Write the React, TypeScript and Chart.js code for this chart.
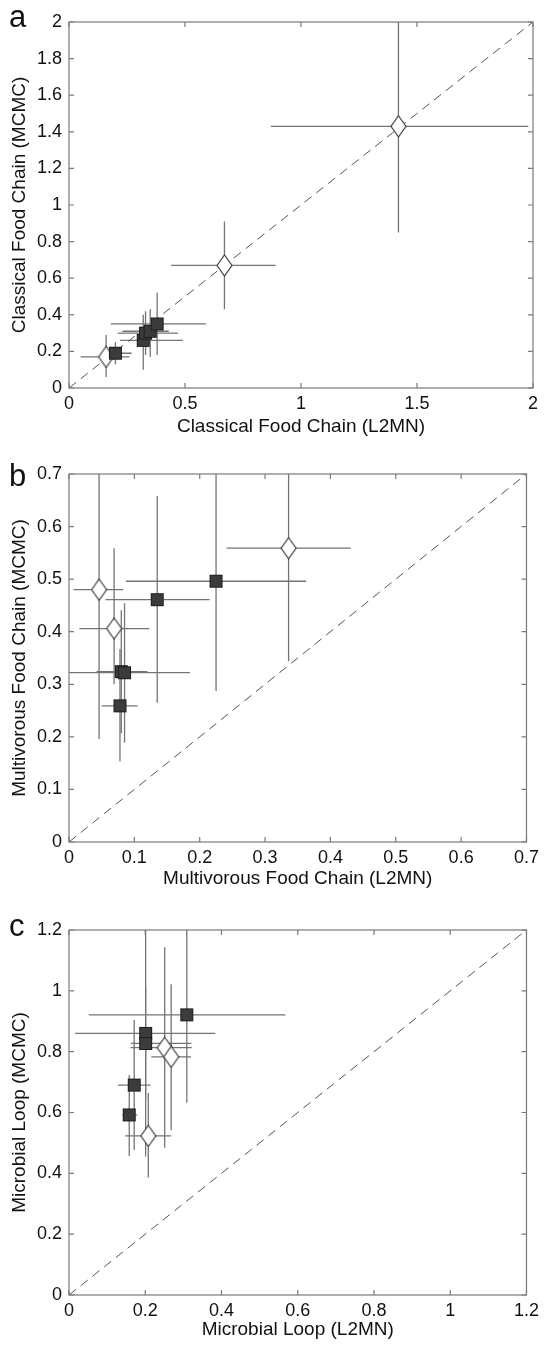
import React, { useEffect, useRef } from "react";
import { Chart, registerables } from "chart.js";
Chart.register(...registerables);

const FONT = "'Liberation Sans', Arial, Helvetica, sans-serif";

// ---------- Panel a: Classical Food Chain ----------
const aXTicks = [0, 0.5, 1, 1.5, 2];
const aXLabels = ["0", "0.5", "1", "1.5", "2"];
const aYTicks = [0, 0.2, 0.4, 0.6, 0.8, 1, 1.2, 1.4, 1.6, 1.8, 2];
const aYLabels = ["0", "0.2", "0.4", "0.6", "0.8", "1", "1.2", "1.4", "1.6", "1.8", "2"];
const aDiaX = [1.42, 0.67, 0.16];
const aDiaY = [1.43, 0.67, 0.17];
const aDiaXLo = [0.87, 0.44, 0.05];
const aDiaXHi = [1.98, 0.89, 0.26];
const aDiaYLo = [0.85, 0.43, 0.06];
const aDiaYHi = [2.1, 0.91, 0.29];
const aSqX = [0.2, 0.32, 0.33, 0.35, 0.38];
const aSqY = [0.19, 0.26, 0.3, 0.31, 0.35];
const aSqXLo = [0.15, 0.22, 0.21, 0.23, 0.18];
const aSqXHi = [0.27, 0.49, 0.47, 0.43, 0.59];
const aSqYLo = [0.13, 0.1, 0.18, 0.17, 0.18];
const aSqYHi = [0.25, 0.4, 0.42, 0.43, 0.52];

// ---------- Panel b: Multivorous Food Chain ----------
const bXTicks = [0, 0.1, 0.2, 0.3, 0.4, 0.5, 0.6, 0.7];
const bXLabels = ["0", "0.1", "0.2", "0.3", "0.4", "0.5", "0.6", "0.7"];
const bYTicks = [0, 0.1, 0.2, 0.3, 0.4, 0.5, 0.6, 0.7];
const bYLabels = ["0", "0.1", "0.2", "0.3", "0.4", "0.5", "0.6", "0.7"];
const bDiaX = [0.046, 0.069, 0.336];
const bDiaY = [0.48, 0.406, 0.559];
const bDiaXLo = [0.007, 0.016, 0.241];
const bDiaXHi = [0.083, 0.123, 0.431];
const bDiaYLo = [0.196, 0.3, 0.344];
const bDiaYHi = [0.75, 0.559, 0.75];
const bSqX = [0.225, 0.135, 0.08, 0.085, 0.078];
const bSqY = [0.496, 0.461, 0.324, 0.322, 0.259];
const bSqXLo = [0.087, 0.056, 0.042, 0.0, 0.05];
const bSqXHi = [0.363, 0.215, 0.12, 0.185, 0.105];
const bSqYLo = [0.287, 0.265, 0.207, 0.189, 0.153];
const bSqYHi = [0.75, 0.658, 0.441, 0.454, 0.367];

// ---------- Panel c: Microbial Loop ----------
const cXTicks = [0, 0.2, 0.4, 0.6, 0.8, 1, 1.2];
const cXLabels = ["0", "0.2", "0.4", "0.6", "0.8", "1", "1.2"];
const cYTicks = [0, 0.2, 0.4, 0.6, 0.8, 1, 1.2];
const cYLabels = ["0", "0.2", "0.4", "0.6", "0.8", "1", "1.2"];
const cDiaX = [0.251, 0.268, 0.208];
const cDiaY = [0.813, 0.783, 0.523];
const cDiaXLo = [0.161, 0.216, 0.147];
const cDiaXHi = [0.322, 0.32, 0.268];
const cDiaYLo = [0.484, 0.542, 0.386];
const cDiaYHi = [1.143, 1.022, 0.664];
const cSqX = [0.309, 0.201, 0.201, 0.171, 0.158];
const cSqY = [0.921, 0.86, 0.827, 0.69, 0.592];
const cSqXLo = [0.052, 0.016, 0.162, 0.128, 0.14];
const cSqXHi = [0.568, 0.384, 0.321, 0.214, 0.179];
const cSqYLo = [0.632, 0.455, 0.641, 0.477, 0.457];
const cSqYHi = [1.25, 1.25, 1.014, 0.904, 0.723];

type Series = { x: number[]; y: number[]; xlo: number[]; xhi: number[]; ylo: number[]; yhi: number[] };
type Panel = {
  letter: string;
  top: number;
  height: number;
  plotTop: number;
  plotBottom: number;
  letterBaseline: number;
  max: number;
  xTicks: number[];
  xLabels: string[];
  yTicks: number[];
  yLabels: string[];
  xTitle: string;
  yTitle: string;
  xTitlePad: number;
  dia: Series;
  sq: Series;
};

const panels: Panel[] = [
  {
    letter: "a", top: 0, height: 455, plotTop: 22, plotBottom: 388, letterBaseline: 27, max: 2,
    xTicks: aXTicks, xLabels: aXLabels, yTicks: aYTicks, yLabels: aYLabels,
    xTitle: "Classical Food Chain (L2MN)", yTitle: "Classical Food Chain (MCMC)", xTitlePad: 17,
    dia: { x: aDiaX, y: aDiaY, xlo: aDiaXLo, xhi: aDiaXHi, ylo: aDiaYLo, yhi: aDiaYHi },
    sq: { x: aSqX, y: aSqY, xlo: aSqXLo, xhi: aSqXHi, ylo: aSqYLo, yhi: aSqYHi },
  },
  {
    letter: "b", top: 445, height: 450, plotTop: 474, plotBottom: 842, letterBaseline: 486, max: 0.7,
    xTicks: bXTicks, xLabels: bXLabels, yTicks: bYTicks, yLabels: bYLabels,
    xTitle: "Multivorous Food Chain (L2MN)", yTitle: "Multivorous Food Chain (MCMC)", xTitlePad: 5,
    dia: { x: bDiaX, y: bDiaY, xlo: bDiaXLo, xhi: bDiaXHi, ylo: bDiaYLo, yhi: bDiaYHi },
    sq: { x: bSqX, y: bSqY, xlo: bSqXLo, xhi: bSqXHi, ylo: bSqYLo, yhi: bSqYHi },
  },
  {
    letter: "c", top: 890, height: 455, plotTop: 930, plotBottom: 1295, letterBaseline: 936, max: 1.2,
    xTicks: cXTicks, xLabels: cXLabels, yTicks: cYTicks, yLabels: cYLabels,
    xTitle: "Microbial Loop (L2MN)", yTitle: "Microbial Loop (MCMC)", xTitlePad: 4,
    dia: { x: cDiaX, y: cDiaY, xlo: cDiaXLo, xhi: cDiaXHi, ylo: cDiaYLo, yhi: cDiaYHi },
    sq: { x: cSqX, y: cSqY, xlo: cSqXLo, xhi: cSqXHi, ylo: cSqYLo, yhi: cSqYHi },
  },
];

const PLOT_LEFT = 69;
const PLOT_RIGHT_PAD = 11;

function makeDiamond(): HTMLCanvasElement {
  const c = document.createElement("canvas");
  const w = 17, h = 23;
  c.width = w; c.height = h;
  const ctx = c.getContext("2d")!;
  ctx.beginPath();
  ctx.moveTo(w / 2, 1);
  ctx.lineTo(w - 1, h / 2);
  ctx.lineTo(w / 2, h - 1);
  ctx.lineTo(1, h / 2);
  ctx.closePath();
  ctx.fillStyle = "#ffffff";
  ctx.fill();
  ctx.strokeStyle = "#3c3c3c";
  ctx.lineWidth = 1.2;
  ctx.stroke();
  return c;
}

function makeSquare(): HTMLCanvasElement {
  const c = document.createElement("canvas");
  const s = 15;
  c.width = s; c.height = s;
  const ctx = c.getContext("2d")!;
  ctx.fillStyle = "#3b3b3b";
  ctx.fillRect(1, 1, s - 2, s - 2);
  ctx.strokeStyle = "#1e1e1e";
  ctx.lineWidth = 1;
  ctx.strokeRect(1.5, 1.5, s - 3, s - 3);
  return c;
}

function PanelChart({ p }: { p: Panel }) {
  const ref = useRef<HTMLCanvasElement | null>(null);
  useEffect(() => {
    if (!ref.current) return;
    const diaImg = makeDiamond();
    const sqImg = makeSquare();
    const toPts = (s: Series) => s.x.map((v, i) => ({ x: v, y: s.y[i] }));

    const errorBars = {
      id: "errorBars",
      beforeDatasetsDraw(chart: any) {
        const { ctx, chartArea, scales } = chart;
        const xs = scales.x, ys = scales.y;
        ctx.save();
        ctx.beginPath();
        ctx.rect(chartArea.left, chartArea.top, chartArea.right - chartArea.left, chartArea.bottom - chartArea.top);
        ctx.clip();
        ctx.strokeStyle = "#747474";
        ctx.lineWidth = 1.3;
        [p.dia, p.sq].forEach((s) => {
          s.x.forEach((xv, i) => {
            const px = xs.getPixelForValue(xv);
            const py = ys.getPixelForValue(s.y[i]);
            ctx.beginPath();
            ctx.moveTo(xs.getPixelForValue(s.xlo[i]), py);
            ctx.lineTo(xs.getPixelForValue(s.xhi[i]), py);
            ctx.moveTo(px, ys.getPixelForValue(s.ylo[i]));
            ctx.lineTo(px, ys.getPixelForValue(s.yhi[i]));
            ctx.stroke();
          });
        });
        ctx.restore();
      },
    };

    const frame = {
      id: "frame",
      afterDatasetsDraw(chart: any) {
        const { ctx, chartArea, scales } = chart;
        const { left, right, top, bottom } = chartArea;
        ctx.save();
        ctx.strokeStyle = "#7a7a7a";
        ctx.lineWidth = 1.2;
        ctx.strokeRect(left, top, right - left, bottom - top);
        ctx.beginPath();
        const tl = 5;
        p.xTicks.forEach((v) => {
          const x = scales.x.getPixelForValue(v);
          ctx.moveTo(x, bottom); ctx.lineTo(x, bottom - tl);
          ctx.moveTo(x, top); ctx.lineTo(x, top + tl);
        });
        p.yTicks.forEach((v) => {
          const y = scales.y.getPixelForValue(v);
          ctx.moveTo(left, y); ctx.lineTo(left + tl, y);
          ctx.moveTo(right, y); ctx.lineTo(right - tl, y);
        });
        ctx.stroke();
        ctx.fillStyle = "#111";
        ctx.font = `31px ${FONT}`;
        ctx.textBaseline = "alphabetic";
        ctx.textAlign = "left";
        ctx.fillText(p.letter, 9, p.letterBaseline - p.top);
        ctx.restore();
      },
    };

    const xHeight = p.top + p.height - p.plotBottom;
    const chart = new Chart(ref.current, {
      type: "scatter",
      data: {
        datasets: [
          {
            data: [{ x: 0, y: 0 }, { x: p.max, y: p.max }],
            showLine: true,
            borderColor: "#555555",
            borderWidth: 1,
            borderDash: [9, 6],
            pointRadius: 0,
            order: 3,
          },
          {
            data: toPts(p.dia),
            pointStyle: diaImg as any,
            pointRadius: 8,
            order: 1,
          },
          {
            data: toPts(p.sq),
            pointStyle: sqImg as any,
            pointRadius: 7,
            order: 0,
          },
        ],
      },
      options: {
        responsive: false,
        animation: false,
        layout: { padding: { top: p.plotTop - p.top, right: PLOT_RIGHT_PAD, left: 0, bottom: 0 } },
        plugins: { legend: { display: false }, tooltip: { enabled: false } },
        scales: {
          x: {
            type: "linear",
            min: 0,
            max: p.max,
            afterBuildTicks: (s: any) => { s.ticks = p.xTicks.map((v) => ({ value: v })); },
            afterFit: (s: any) => { s.height = xHeight; },
            grid: { display: false, drawTicks: false },
            border: { display: false },
            ticks: {
              callback: (_v: any, i: number) => p.xLabels[i],
              font: { size: 18, family: FONT },
              color: "#111",
              padding: 5,
              maxRotation: 0,
              autoSkip: false,
            },
            title: {
              display: true,
              text: p.xTitle,
              font: { size: 19, family: FONT },
              color: "#111",
              padding: { top: 0, bottom: p.xTitlePad },
            },
          },
          y: {
            type: "linear",
            min: 0,
            max: p.max,
            afterBuildTicks: (s: any) => { s.ticks = p.yTicks.map((v) => ({ value: v })); },
            afterFit: (s: any) => { s.width = PLOT_LEFT; },
            grid: { display: false, drawTicks: false },
            border: { display: false },
            ticks: {
              callback: (_v: any, i: number) => p.yLabels[i],
              font: { size: 18, family: FONT },
              color: "#111",
              padding: 7,
              autoSkip: false,
            },
            title: {
              display: true,
              text: p.yTitle,
              font: { size: 19, family: FONT },
              color: "#111",
              padding: { top: 8, bottom: 0 },
            },
          },
        },
      },
      plugins: [errorBars, frame],
    } as any);
    return () => chart.destroy();
  }, [p]);

  return (
    <canvas
      ref={ref}
      width={544}
      height={p.height}
      style={{ position: "absolute", left: 0, top: p.top, width: 544, height: p.height }}
    />
  );
}

export default function App() {
  return (
    <div style={{ position: "absolute", left: 0, top: 0, width: 544, height: 1345, background: "#fff", overflow: "hidden" }}>
      {panels.map((p) => (
        <PanelChart key={p.letter} p={p} />
      ))}
    </div>
  );
}
